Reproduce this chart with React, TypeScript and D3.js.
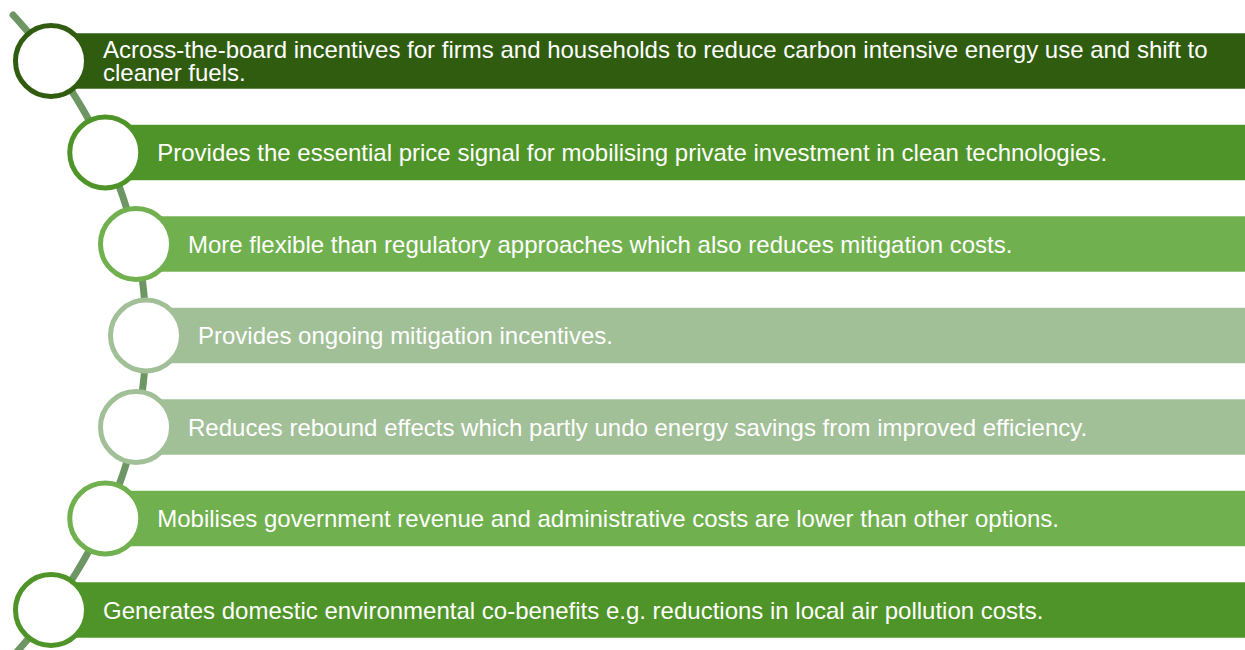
import React from "react";
import * as d3 from "d3";

const labels: string[][] = [
  ["Across-the-board incentives for firms and households to reduce carbon intensive energy use and shift to", "cleaner fuels."],
  ["Provides the essential price signal for mobilising private investment in clean technologies."],
  ["More flexible than regulatory approaches which also reduces mitigation costs."],
  ["Provides ongoing mitigation incentives."],
  ["Reduces rebound effects which partly undo energy savings from improved efficiency."],
  ["Mobilises government revenue and administrative costs are lower than other options."],
  ["Generates domestic environmental co-benefits e.g. reductions in local air pollution costs."],
];

const palette: string[] = ["#305C10", "#4F9428", "#70B04F", "#A2C098", "#A2C098", "#70B04F", "#4F9428"];

const W = 1245;
const H = 650;

export default function App() {
  const n = labels.length;
  const y = d3.scalePoint<number>().domain(d3.range(n)).range([61, 610]);
  const midY = (y(0)! + y(n - 1)!) / 2;
  // elliptical arc connector
  const apexX = 146;
  const rx = 795;
  const ry = 579;
  const arcX = (yy: number) => {
    const t = Math.min(1, ((yy - midY) * (yy - midY)) / (ry * ry));
    return apexX - rx * (1 - Math.sqrt(1 - t));
  };
  const pts: [number, number][] = d3.range(15, 665, 2).map((yy) => [arcX(yy), yy]);
  const line = d3.line<[number, number]>().x((d) => d[0]).y((d) => d[1]).curve(d3.curveBasis);

  const barH = 56;
  const r = 35.5;
  const fontSize = 24;
  const lineH = 23.5;

  return (
    <svg width={W} height={H} style={{ position: "absolute", left: 0, top: 0, display: "block" }}
      fontFamily="'Liberation Sans', Arial, sans-serif">
      <rect x={0} y={0} width={W} height={H} fill="#ffffff" />
      <path d={line(pts)!} fill="none" stroke="#6E9664" strokeWidth={7} strokeLinecap="round" />
      {labels.map((lines, i) => {
        const cy = y(i)!;
        const cx = arcX(cy);
        return (
          <g key={i}>
            <rect x={cx} y={cy - barH / 2} width={W - cx + 2} height={barH} fill={palette[i]}
              stroke="#ffffff" strokeOpacity={0.55} strokeWidth={1} />
            <circle cx={cx} cy={cy} r={r} fill="#ffffff" stroke={palette[i]} strokeWidth={5} />
            <text fill="#ffffff" fontSize={fontSize} dominantBaseline="central">
              {lines.map((t, j) => (
                <tspan key={j} x={cx + 52} y={cy - 0.5 + (j - (lines.length - 1) / 2) * lineH}>
                  {t}
                </tspan>
              ))}
            </text>
          </g>
        );
      })}
    </svg>
  );
}
